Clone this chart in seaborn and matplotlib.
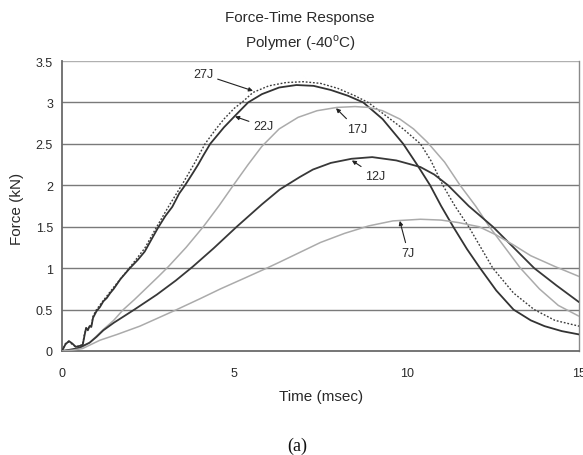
import matplotlib
matplotlib.use("Agg")
import matplotlib.pyplot as plt
import seaborn as sns
import pandas as pd

# ---------------- data ----------------
t27 = [0, 0.1, 0.2, 0.3, 0.4, 0.5, 0.6, 0.65, 0.7, 0.75, 0.8, 0.85, 0.9, 1.0, 1.2, 1.5, 1.97, 2.4, 2.75, 3.1,
       3.5, 3.85, 4.15, 4.45, 4.7, 5.0, 5.22, 5.54, 6.0, 6.5, 7.0, 7.5, 8.0, 8.5, 8.88, 9.3, 9.9, 10.4, 10.7, 11.05,
       11.4, 11.8, 12.15, 12.5, 13.1, 13.7, 14.3, 15.0]
f27 = [0, 0.09, 0.11, 0.08, 0.05, 0.06, 0.08, 0.2, 0.27, 0.26, 0.31, 0.3, 0.42, 0.5, 0.61, 0.77, 1.01, 1.24, 1.5, 1.75,
       2.02, 2.27, 2.5, 2.67, 2.8, 2.93, 3.0, 3.12, 3.2, 3.24, 3.25, 3.23, 3.17, 3.08, 3.0, 2.87, 2.68, 2.5, 2.3, 2.0,
       1.75, 1.5, 1.25, 1.0, 0.7, 0.5, 0.37, 0.3]

t22 = [0, 0.1, 0.2, 0.3, 0.4, 0.5, 0.6, 0.65, 0.7, 0.75, 0.8, 0.85, 0.9, 1.0, 1.1, 1.2, 1.3, 1.4, 1.5, 1.7,
       1.97, 2.2, 2.4, 2.6, 2.79, 3.0, 3.2, 3.4, 3.57, 3.8, 3.95, 4.1, 4.3, 4.7, 5.07, 5.4, 5.8, 6.3, 6.8, 7.3,
       7.8, 8.3, 8.74, 9.3, 9.9, 10.3, 10.68, 11.0, 11.35, 11.75, 12.13, 12.6, 13.1, 13.6, 14.0, 14.5, 15.0]
f22 = [0, 0.08, 0.12, 0.09, 0.05, 0.06, 0.07, 0.18, 0.28, 0.25, 0.3, 0.29, 0.4, 0.48, 0.53, 0.6, 0.64, 0.7, 0.75, 0.87,
       1.0, 1.1, 1.2, 1.35, 1.49, 1.63, 1.74, 1.9, 2.0, 2.15, 2.25, 2.36, 2.5, 2.7, 2.86, 3.0, 3.1, 3.18, 3.21, 3.2,
       3.15, 3.08, 3.0, 2.8, 2.5, 2.25, 2.0, 1.75, 1.5, 1.23, 1.0, 0.73, 0.5, 0.37, 0.3, 0.24, 0.2]

t17 = [0, 0.3, 0.5, 0.6, 0.8, 1.0, 1.2, 1.5, 1.78, 2.1, 2.5, 2.8, 3.09, 3.6, 4.1, 4.55, 4.97, 5.4, 5.8, 6.3,
       6.85, 7.4, 7.98, 8.5, 8.9, 9.3, 9.8, 10.2, 10.6, 11.1, 11.55, 12.0, 12.4, 12.85, 13.3, 13.85, 14.4, 15.0]
f17 = [0, 0.02, 0.04, 0.05, 0.1, 0.18, 0.26, 0.37, 0.5, 0.62, 0.78, 0.9, 1.02, 1.25, 1.5, 1.75, 2.0, 2.25, 2.47, 2.68,
       2.82, 2.9, 2.94, 2.95, 2.94, 2.9, 2.8, 2.68, 2.52, 2.28, 2.0, 1.75, 1.5, 1.25, 1.0, 0.75, 0.55, 0.42]

t12 = [0, 0.3, 0.5, 0.8, 1.0, 1.2, 1.5, 1.8, 2.1, 2.75, 3.3, 3.8, 4.4, 5.07, 5.8, 6.32, 6.9, 7.28, 7.8, 8.4,
       9.0, 9.7, 10.4, 10.8, 11.2, 11.8, 12.5, 13.1, 13.7, 14.35, 15.0]
f12 = [0, 0.02, 0.04, 0.1, 0.17, 0.25, 0.34, 0.42, 0.5, 0.68, 0.85, 1.02, 1.24, 1.5, 1.77, 1.95, 2.1, 2.19, 2.27, 2.32,
       2.34, 2.3, 2.22, 2.13, 2.0, 1.75, 1.5, 1.25, 1.0, 0.79, 0.59]

t7 = [0, 0.3, 0.6, 0.8, 1.1, 1.6, 2.26, 2.85, 3.33, 4.0, 4.6, 5.3, 5.94, 6.3, 6.9, 7.5, 8.2, 8.9, 9.6, 10.4,
      11.0, 11.5, 12.1, 12.6, 13.1, 13.6, 14.3, 15.0]
f7 = [0, 0.01, 0.03, 0.07, 0.13, 0.2, 0.3, 0.41, 0.5, 0.63, 0.75, 0.88, 1.0, 1.07, 1.19, 1.31, 1.42, 1.51, 1.57, 1.59,
      1.58, 1.55, 1.5, 1.4, 1.28, 1.15, 1.02, 0.9]

series_names = ["27J", "22J", "17J", "12J", "7J"]
x_ticks = [0, 5, 10, 15]
y_ticks = [0, 0.5, 1, 1.5, 2, 2.5, 3, 3.5]
y_tick_labels = ["0", "0.5", "1", "1.5", "2", "2.5", "3", "3.5"]

# label text position and arrow target (t, F)
label_text = {"27J": (4.09, 3.34), "22J": (5.85, 2.71), "17J": (8.55, 2.68), "12J": (9.1, 2.11), "7J": (10.05, 1.18)}
label_target = {"27J": (5.54, 3.14), "22J": (5.02, 2.83), "17J": (7.95, 2.93), "12J": (8.41, 2.30), "7J": (9.8, 1.57)}

# ---------------- styling ----------------
sns.set_style("white")
plt.rcParams["font.family"] = ["Liberation Sans", "DejaVu Sans"]
text_color = "#2a2a2a"

frames = []
for name, t, f in zip(series_names, [t27, t22, t17, t12, t7], [f27, f22, f17, f12, f7]):
    frames.append(pd.DataFrame({"t": t, "F": f, "series": name}))
df = pd.concat(frames, ignore_index=True)

styles = {
    "27J": dict(color="#3c3c3c", lw=1.0, ls=(0, (1.3, 1.3))),
    "22J": dict(color="#333333", lw=1.3, ls="-"),
    "17J": dict(color="#ababab", lw=1.1, ls="-"),
    "12J": dict(color="#383838", lw=1.3, ls="-"),
    "7J": dict(color="#ababab", lw=1.1, ls="-"),
}

fig = plt.figure(figsize=(5.83, 4.56), dpi=100)
ax = fig.add_axes([62 / 583, 1 - 352 / 456, (579 - 62) / 583, (352 - 62) / 456])

# grid lines
for yv in y_ticks[1:]:
    ax.axhline(yv, color="#7a7a7a" if yv < 3.5 else "#b0b0b0", lw=1.0, zorder=1)

for name in series_names:
    st = styles[name]
    sub = df[df["series"] == name]
    sns.lineplot(data=sub, x="t", y="F", ax=ax, color=st["color"], linewidth=st["lw"],
                 linestyle=st["ls"], sort=False, estimator=None, legend=False, zorder=3)

ax.set_xlim(0, 15)
ax.set_ylim(0, 3.5)
ax.set_xticks(x_ticks)
ax.set_xticklabels([str(v) for v in x_ticks])
ax.set_yticks(y_ticks)
ax.set_yticklabels(y_tick_labels)
ax.tick_params(axis="both", which="major", labelsize=9, colors="#555555", labelcolor=text_color,
               length=3.5, width=0.8, direction="out", pad=3)
ax.tick_params(axis="x", pad=8)
ax.set_xlabel("")
ax.set_ylabel("")

for side in ["left", "bottom"]:
    ax.spines[side].set_color("#6a6a6a")
    ax.spines[side].set_linewidth(1.3)
ax.spines["top"].set_visible(False)
ax.spines["right"].set_color("#8a8a8a")
ax.spines["right"].set_linewidth(1.0)

for name in series_names:
    ax.annotate(name, xy=label_target[name], xytext=label_text[name], textcoords="data",
                ha="center", va="center", fontsize=9, color=text_color,
                arrowprops=dict(arrowstyle="-|>", color="#222222", lw=0.8, mutation_scale=6,
                                shrinkA=1, shrinkB=0), zorder=5)

fig.text(300 / 583, 1 - 18 / 456, "Force-Time Response", ha="center", va="center", fontsize=11, color=text_color)
fig.text(300 / 583, 1 - 43 / 456, r"Polymer (-40$^{\mathregular{o}}$C)", ha="center", va="center",
         fontsize=11, color=text_color)
fig.text(321 / 583, 1 - 397 / 456, "Time (msec)", ha="center", va="center", fontsize=11, color=text_color)
fig.text(17 / 583, 1 - 209 / 456, "Force (kN)", ha="center", va="center", rotation=90, fontsize=11,
         color=text_color)
fig.text(297 / 583, 1 - 446 / 456, "(a)", ha="center", va="center", fontsize=13, color="#111111",
         family=["Liberation Serif", "DejaVu Serif"])

fig.savefig("out.png", dpi=100, facecolor="white")
